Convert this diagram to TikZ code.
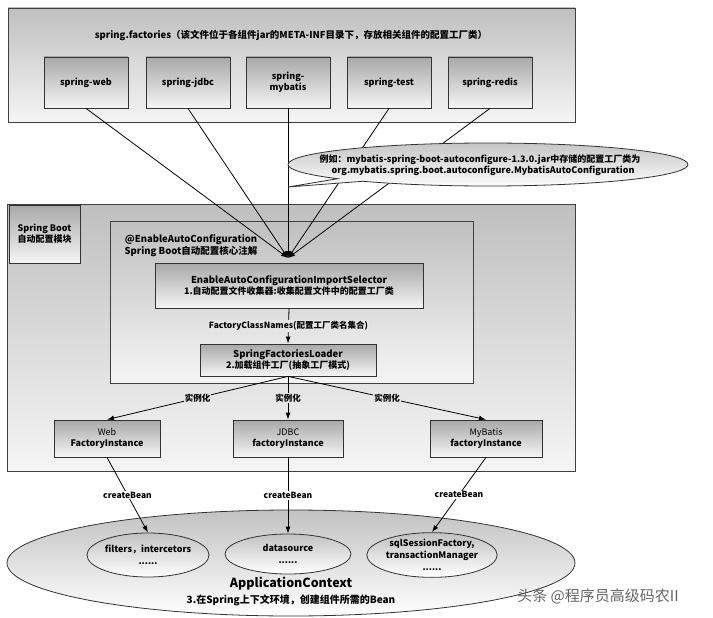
\documentclass[tikz,border=0pt]{standalone}
\usepackage{fontspec}
\setmainfont{Noto Sans CJK SC}
\usetikzlibrary{arrows.meta,shapes.geometric,shapes.callouts,shadows}

\begin{document}
\begin{tikzpicture}[x=1pt,y=-1pt,
	panel/.style={draw=black!75,line width=0.8pt,top color=gray!50,bottom color=gray!8},
	box/.style={draw=black!80,line width=0.8pt,top color=gray!68,bottom color=gray!8,
		align=center,inner sep=0pt,font=\bfseries\fontsize{9}{11}\selectfont,
		drop shadow={shadow xshift=1.2pt,shadow yshift=-1.2pt,opacity=0.35}},
	bean/.style={ellipse,draw=black!80,line width=0.8pt,top color=gray!48,bottom color=white,
		align=center,inner sep=0pt,font=\bfseries\fontsize{9}{12}\selectfont},
	link/.style={line width=0.8pt,-{Latex[length=7pt,width=5pt]}},
	lbl/.style={font=\bfseries\fontsize{8.5}{10}\selectfont,inner sep=1pt}]
%
	\fill[white] (0,0) rectangle (713,618);
	\useasboundingbox (0,0) rectangle (713,618);
%
	% spring.factories
	\node[panel,minimum width=567,minimum height=114] (factories) at (291.5,65) {};
	\node[font=\bfseries\fontsize{9.5}{11}\selectfont] (factitle) at (291,35)
		{spring.factories（该文件位于各组件jar的META-INF目录下，存放相关组件的配置工厂类）};
	\node[box,minimum width=84,minimum height=51] (web) at (86,82.5) {spring-web};
	\node[box,minimum width=84,minimum height=51] (jdbc) at (188,82.5) {spring-jdbc};
	\node[box,minimum width=84,minimum height=51] (mybatis) at (288,82.5) {spring-\\mybatis};
	\node[box,minimum width=84,minimum height=51] (test) at (389,82.5) {spring-test};
	\node[box,minimum width=84,minimum height=51] (redis) at (490,82.5) {spring-redis};
%
	% Spring Boot
	\node[panel,minimum width=568,minimum height=267] (boot) at (291,337.5) {};
	\node[box,minimum width=71,minimum height=58] (bootlabel) at (44.5,234)
		{Spring Boot\\自动配置模块};
	\node[panel,minimum width=363,minimum height=162] (enable) at (291.5,302) {};
	\node[align=center,font=\bfseries\fontsize{9.5}{12}\selectfont] (enabletitle) at (191,246)
		{@EnableAutoConfiguration\\Spring Boot自动配置核心注解};
	\node[box,minimum width=268,minimum height=45] (selector) at (289,285.5)
		{\fontsize{9.5}{13}\selectfont EnableAutoConfigurationImportSelector\\1.自动配置文件收集器:收集配置文件中的配置工厂类};
	\node[box,minimum width=176,minimum height=32] (loader) at (288,360)
		{\fontsize{9.5}{12}\selectfont SpringFactoriesLoader\\2.加载组件工厂(抽象工厂模式)};
	\node[box,minimum width=106,minimum height=37] (webfactory) at (107,438.5)
		{{\mdseries Web}\\FactoryInstance};
	\node[box,minimum width=110,minimum height=37] (jdbcfactory) at (288,438.5)
		{{\mdseries JDBC}\\factoryInstance};
	\node[box,minimum width=112,minimum height=37] (mybatisfactory) at (486,438.5)
		{{\mdseries MyBatis}\\factoryInstance};
%
	% ApplicationContext
	\node[bean,minimum width=568,minimum height=106] (context) at (291,563) {};
	\node[align=center,font=\bfseries\fontsize{10}{16}\selectfont] (contexttitle) at (291,591)
		{{\fontsize{12.5}{16}\selectfont ApplicationContext}\\3.在Spring上下文环境，创建组件所需的Bean};
	\node[bean,minimum width=116,minimum height=44] (filters) at (148,555)
		{filters，intercetors\\......};
	\node[bean,minimum width=126,minimum height=40] (datasource) at (288,554)
		{datasource\\......};
	\node[bean,minimum width=130,minimum height=44] (sqlsession) at (432,555)
		{sqlSessionFactory,\\transactionManager\\......};
%
	% connectors
	\coordinate (hub) at (288,258);
	\foreach \jar in {web,jdbc,mybatis,test,redis}
		\draw[link] (\jar.south) -- (hub);
	\coordinate (tip) at (288,187);
	\node[ellipse callout,draw=black!80,line width=0.8pt,top color=gray!45,bottom color=white,
		minimum width=400,minimum height=43,inner sep=0pt,
		callout absolute pointer={(tip)},callout pointer arc=10] (example) at (488,164.5) {};
	\node[align=center,font=\bfseries\fontsize{9}{11}\selectfont] (exampletext) at (480,165)
		{例如：mybatis-spring-boot-autoconfigure-1.3.0.jar中存储的配置工厂类为\\
		\ \ \ org.mybatis.spring.boot.autoconfigure.MybatisAutoConfiguration};
%
	\draw[link] (selector.south) -- node[lbl,fill=gray!20] {FactoryClassNames(配置工厂类名集合)} (loader.north);
	\draw[link] (loader.south) -- node[lbl,fill=gray!20] {实例化} (webfactory.north);
	\draw[link] (loader.south) -- node[lbl,fill=gray!20] {实例化} (jdbcfactory.north);
	\draw[link] (loader.south) -- node[lbl,fill=gray!20] {实例化} (mybatisfactory.north);
	\draw[link] (webfactory.south) -- node[lbl,fill=white] {createBean} (filters.north);
	\draw[link] (jdbcfactory.south) -- node[lbl,fill=white] {createBean} (datasource.north);
	\draw[link] (mybatisfactory.south) -- node[lbl,fill=white] {createBean} (sqlsession.north);
%
	\node[text=black!60,font=\fontsize{15}{18}\selectfont] (mark) at (598,596) {头条 @程序员高级码农II};
%
\end{tikzpicture}
\end{document}
